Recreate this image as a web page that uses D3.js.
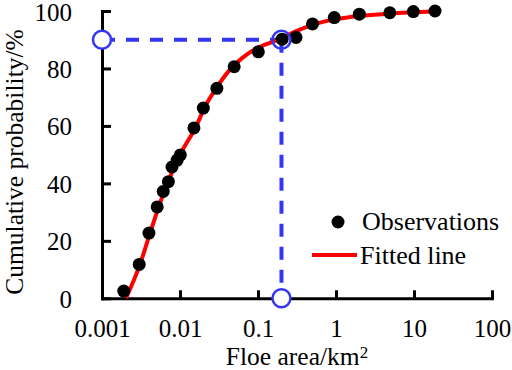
<!DOCTYPE html>
<html>
<head>
<meta charset="utf-8">
<script src="https://cdn.jsdelivr.net/npm/d3@7"></script>
<style>
  html, body { margin: 0; padding: 0; background: #fff; }
  svg { display: block; }
  text { font-family: "Liberation Serif", "Times New Roman", serif; fill: #000; }
</style>
</head>
<body>
<script>
// ---------- data ----------
const obsArea = [0.0019, 0.0030, 0.0040, 0.0051, 0.0061, 0.0071, 0.0079, 0.0092, 0.0101,
                 0.0151, 0.0199, 0.0297, 0.0495, 0.101, 0.204, 0.307, 0.50, 0.95, 1.99, 4.9, 9.8, 18.6];
const obsProb = [2.5, 11.8, 22.7, 31.8, 37.2, 40.6, 45.7, 48.1, 49.9,
                 59.3, 66.2, 73.1, 80.6, 85.8, 90.2, 90.8, 95.5, 97.7, 98.9, 99.4, 99.8, 100];

const fitArea = [0.00203, 0.00307, 0.00413, 0.00624, 0.0100, 0.0164, 0.0209, 0.0281, 0.0416,
                 0.0618, 0.0962, 0.150, 0.200, 0.298, 0.488, 0.881, 1.51, 4.92, 17.5];
const fitProb = [0, 11.8, 22.7, 37.0, 49.9, 60.3, 66.7, 72.5, 78.9,
                 83.5, 87.0, 89.2, 90.5, 92.8, 95.1, 96.9, 97.9, 99.1, 99.8];

const markerArea = 0.2;
const markerProb = 90;

const xTicks = [0.001, 0.01, 0.1, 1, 10, 100];
const xTickLabels = ["0.001", "0.01", "0.1", "1", "10", "100"];
const yTicks = [0, 20, 40, 60, 80, 100];

const legendLabels = ["Observations", "Fitted line"];

// ---------- layout ----------
const W = 512, H = 370;
const BLUE = "#3535f5", RED = "#ff0000";

const svg = d3.select("body").append("svg").attr("width", W).attr("height", H);
svg.append("rect").attr("width", W).attr("height", H).attr("fill", "#fff");

const x = d3.scaleLog().domain([0.001, 100]).range([102, 492]);
const y = d3.scaleLinear().domain([0, 100]).range([298.3, 11]);

// axes
const yAxis = d3.axisLeft(y).tickValues(yTicks).tickSizeInner(-9).tickSizeOuter(0).tickPadding(30);
const gy = svg.append("g").attr("transform", `translate(${x(0.001)},0)`).call(yAxis);
const xAxis = d3.axisBottom(x).tickValues(xTicks).tickFormat((d, i) => xTickLabels[i])
  .tickSizeInner(-8).tickSizeOuter(0).tickPadding(20.5);
const gx = svg.append("g").attr("transform", `translate(0,${y(0)})`).call(xAxis);

[gx, gy].forEach(g => {
  g.select(".domain").attr("stroke", "#000").attr("stroke-width", 3).attr("stroke-linecap", "square");
  g.selectAll(".tick line").attr("stroke", "#000").attr("stroke-width", 3);
  g.selectAll(".tick text").attr("font-family", "Liberation Serif").attr("font-size", 25).attr("fill", "#000");
});
gy.selectAll(".tick text").attr("dy", "0.36em");

// axis titles
const xt = svg.append("text").attr("x", (x.range()[0] + x.range()[1]) / 2).attr("y", 364.5)
  .attr("text-anchor", "middle").attr("font-size", 25.5);
xt.append("tspan").text("Floe area/km");
xt.append("tspan").text("2").attr("font-size", 17).attr("dy", -7);

svg.append("text").attr("transform", "translate(23,162) rotate(-90)")
  .attr("text-anchor", "middle").attr("font-size", 25.5).text("Cumulative probability/%");

// dashed guide lines
svg.append("line")
  .attr("x1", x(0.001)).attr("y1", y(markerProb)).attr("x2", x(markerArea)).attr("y2", y(markerProb))
  .attr("stroke", BLUE).attr("stroke-width", 4).attr("stroke-dasharray", "13,11");
svg.append("line")
  .attr("x1", x(markerArea)).attr("y1", y(markerProb)).attr("x2", x(markerArea)).attr("y2", y(0))
  .attr("stroke", BLUE).attr("stroke-width", 4).attr("stroke-dasharray", "13,10");

// fitted line
const fitData = fitArea.map((a, i) => [a, fitProb[i]]);
svg.append("path").datum(fitData)
  .attr("d", d3.line().x(d => x(d[0])).y(d => y(d[1])).curve(d3.curveMonotoneX))
  .attr("fill", "none").attr("stroke", RED).attr("stroke-width", 4);

// observations
svg.append("g").selectAll("circle").data(obsArea.map((a, i) => [a, obsProb[i]])).join("circle")
  .attr("cx", d => x(d[0])).attr("cy", d => y(d[1])).attr("r", 6.5).attr("fill", "#000");

// marker circles
const markers = [
  { a: 0.001, p: markerProb, fill: "#fff" },
  { a: markerArea, p: 0, fill: "#fff" },
  { a: markerArea, p: markerProb, fill: "none" }
];
svg.append("g").selectAll("circle").data(markers).join("circle")
  .attr("cx", d => x(d.a)).attr("cy", d => y(d.p)).attr("r", 9)
  .attr("fill", d => d.fill).attr("stroke", BLUE).attr("stroke-width", 2.5);

// legend
const lg = svg.append("g");
lg.append("circle").attr("cx", 338).attr("cy", 222).attr("r", 6.5).attr("fill", "#000");
lg.append("text").attr("x", 362).attr("y", 230).attr("font-size", 26).text(legendLabels[0]);
lg.append("line").attr("x1", 312).attr("x2", 357).attr("y1", 255).attr("y2", 255)
  .attr("stroke", RED).attr("stroke-width", 4);
lg.append("text").attr("x", 360).attr("y", 264).attr("font-size", 26).text(legendLabels[1]);
</script>
</body>
</html>
